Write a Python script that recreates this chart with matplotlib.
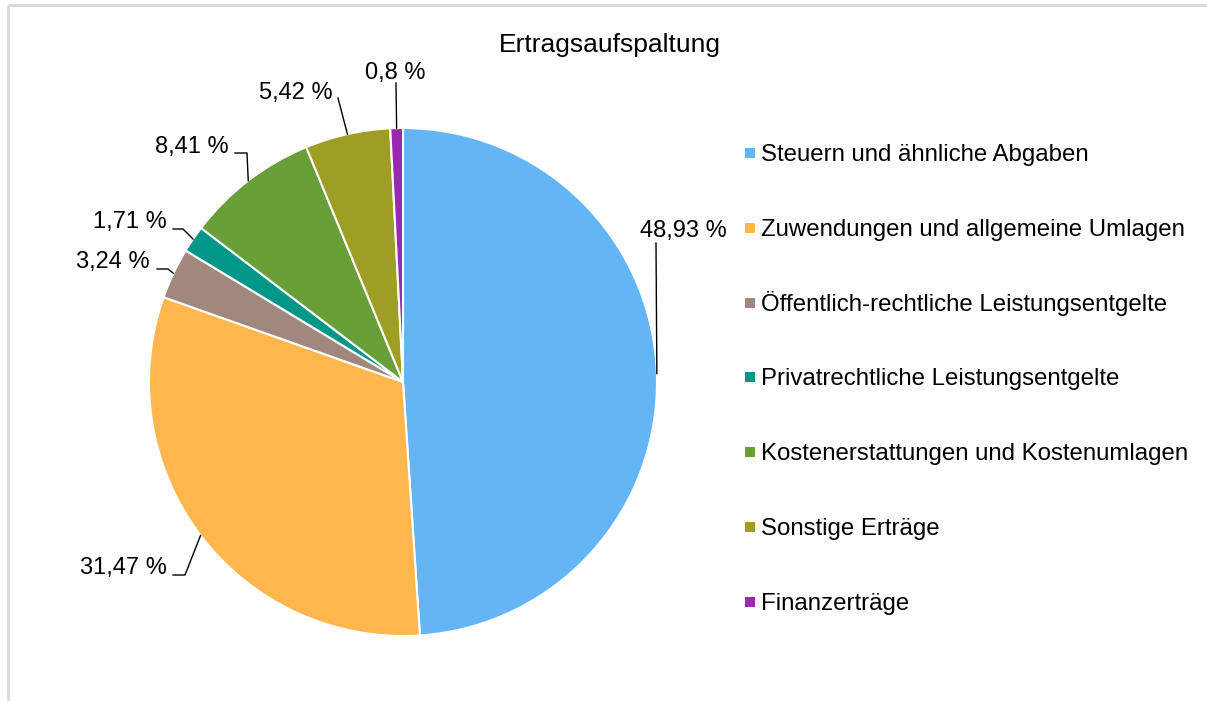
import matplotlib
matplotlib.use('Agg')
import matplotlib.pyplot as plt
from matplotlib.patches import Rectangle
import numpy as np

plt.rcParams['font.family'] = ['Liberation Sans', 'Arial', 'DejaVu Sans']

W, H = 1207, 701

title = 'Ertragsaufspaltung'
categories = ['Steuern und ähnliche Abgaben',
              'Zuwendungen und allgemeine Umlagen',
              'Öffentlich-rechtliche Leistungsentgelte',
              'Privatrechtliche Leistungsentgelte',
              'Kostenerstattungen und Kostenumlagen',
              'Sonstige Erträge',
              'Finanzerträge']
values = [48.93, 31.47, 3.24, 1.71, 8.41, 5.42, 0.8]
colors = ['#64B5F6', '#FFB74D', '#A1887F', '#009688', '#689F38', '#9E9D24', '#9C27B0']

# label layout in pixel coords (y down): text anchor, alignment, leader bend points
label_text_xy = [(683, 237), (167, 574), (150, 268), (167, 228), (229, 153), (333, 99), (395, 79)]
label_ha = ['center', 'right', 'right', 'right', 'right', 'right', 'center']
label_path = [[(656, 243)],
              [(185, 575), (173, 575)],
              [(168, 269), (157, 269)],
              [(183, 229), (173, 229)],
              [(247, 153), (235, 153)],
              [(338, 98)],
              [(396, 83)]]

def py(y):
    return H - y

fig = plt.figure(figsize=(W / 100, H / 100), dpi=100)
ax = fig.add_axes([0, 0, 1, 1])

# light frame (top and left edges visible)
ax.plot([8, W + 5], [py(4.5), py(4.5)], color='#D9D9D9', lw=2, solid_capstyle='butt')
ax.plot([8, 8], [py(4.5), -5], color='#D9D9D9', lw=2, solid_capstyle='butt')

cx, cy, r = 403, py(382), 254
wedges, _ = ax.pie(values, colors=colors, startangle=90, counterclock=False,
                   center=(cx, cy), radius=r, frame=True,
                   wedgeprops=dict(edgecolor='white', linewidth=1.5))
ax.set_xlim(0, W)
ax.set_ylim(0, H)
ax.axis('off')

for i, w in enumerate(wedges):
    mid = np.deg2rad((w.theta1 + w.theta2) / 2)
    ex, ey = cx + r * np.cos(mid), cy + r * np.sin(mid)
    xs = [ex] + [p[0] for p in label_path[i]]
    ys = [ey] + [py(p[1]) for p in label_path[i]]
    ax.plot(xs, ys, color='black', lw=1)
    txt = ('%g' % values[i]).replace('.', ',') + ' %'
    tx, ty = label_text_xy[i]
    ax.text(tx, py(ty), txt, ha=label_ha[i], va='baseline', fontsize=17, color='black')

ax.text(610, py(52), title, ha='center', va='baseline', fontsize=19, color='black')

# legend
for i, name in enumerate(categories):
    base = 161 + i * 74.83
    ax.add_patch(Rectangle((744.5, py(base - 3)), 10, 10, facecolor=colors[i], edgecolor='none'))
    ax.text(761, py(base), name, ha='left', va='baseline', fontsize=17.25, color='black')

fig.savefig('out.png', dpi=100)
